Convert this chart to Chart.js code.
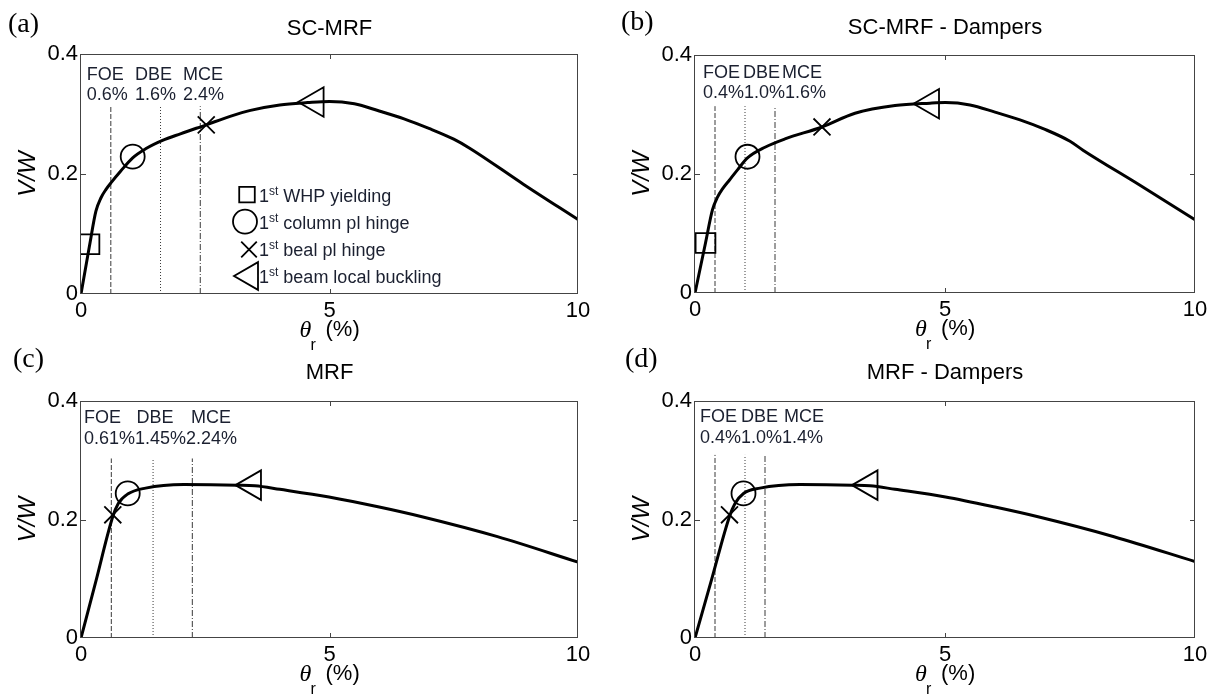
<!DOCTYPE html>
<html>
<head>
<meta charset="utf-8">
<script src="https://cdn.jsdelivr.net/npm/chart.js@4.4.0/dist/chart.umd.min.js"></script>
<style>
  body { margin: 0; background: #fff; width: 1215px; height: 695px; overflow: hidden; position: relative; }
  canvas { position: absolute; }
</style>
</head>
<body>
<canvas id="p0" width="610" height="360" style="left:0;top:0"></canvas>
<canvas id="p1" width="605" height="360" style="left:610px;top:0"></canvas>
<canvas id="p2" width="610" height="350" style="left:0;top:345px"></canvas>
<canvas id="p3" width="605" height="350" style="left:610px;top:345px"></canvas>
<script>
// panel text
const panelLetters = ['(a)', '(b)', '(c)', '(d)'];
const panelTitles = ['SC-MRF', 'SC-MRF - Dampers', 'MRF', 'MRF - Dampers'];

// pushover curves, roof drift (%) vs V/W
const thetaA = [0, 0.17, 0.3, 0.4, 0.5, 0.61, 0.8, 1.04, 1.3, 1.64, 2.0, 2.52, 3.0, 3.41, 4.0, 4.56, 5.0, 5.5, 6.0, 6.5, 7.0, 7.5, 7.82, 8.9, 10];
const vwA    = [0, 0.08, 0.138, 0.16, 0.174, 0.186, 0.205, 0.227, 0.242, 0.256, 0.267, 0.282, 0.296, 0.306, 0.315, 0.319, 0.321, 0.317, 0.305, 0.292, 0.276, 0.258, 0.243, 0.183, 0.124];
const thetaB = [0, 0.21, 0.35, 0.45, 0.55, 0.69, 0.85, 1.05, 1.4, 1.8, 2.54, 3.2, 4.0, 4.7, 5.01, 5.5, 6.0, 6.5, 7.0, 7.5, 7.76, 8.9, 10];
const vwB    = [0, 0.084, 0.14, 0.161, 0.175, 0.19, 0.207, 0.227, 0.245, 0.259, 0.279, 0.302, 0.315, 0.319, 0.32, 0.316, 0.304, 0.291, 0.275, 0.255, 0.24, 0.181, 0.123];
const thetaC = [0, 0.3, 0.64, 0.75, 0.94, 1.3, 2.07, 3.15, 3.5, 4.0, 4.99, 6.0, 6.84, 8.38, 10];
const vwC    = [0, 0.096, 0.205, 0.227, 0.243, 0.253, 0.259, 0.258, 0.257, 0.251, 0.238, 0.221, 0.205, 0.171, 0.128];
const thetaD = [0, 0.33, 0.69, 0.8, 0.97, 1.3, 2.1, 3.15, 3.5, 4.0, 5.01, 6.0, 6.84, 8.38, 10];
const vwD    = [0, 0.098, 0.205, 0.227, 0.244, 0.253, 0.259, 0.258, 0.257, 0.251, 0.238, 0.221, 0.205, 0.171, 0.129];
const curveX = [thetaA, thetaB, thetaC, thetaD];
const curveY = [vwA, vwB, vwC, vwD];

// seismic hazard levels
const hazardNames = ['FOE', 'DBE', 'MCE'];
const hazardDrift = [[0.6, 1.6, 2.4], [0.4, 1.0, 1.6], [0.61, 1.45, 2.24], [0.4, 1.0, 1.4]];
const hazardLabels = [['0.6%', '1.6%', '2.4%'], ['0.4%', '1.0%', '1.6%'], ['0.61%', '1.45%', '2.24%'], ['0.4%', '1.0%', '1.4%']];
const hazardTop = [0.313, 0.314, 0.303, 0.309];

// damage events (null = not reached)
const whpX  = [0.17, 0.21, null, null];   const whpY  = [0.083, 0.084, null, null];
const colX  = [1.04, 1.05, 0.94, 0.97];   const colY  = [0.229, 0.229, 0.244, 0.244];
const beamX = [2.52, 2.54, 0.64, 0.69];   const beamY = [0.282, 0.279, 0.208, 0.208];
const buckX = [4.71, 4.71, 3.45, 3.48];   const buckY = [0.320, 0.318, 0.258, 0.258];
const legendLabels = ['WHP yielding', 'column pl hinge', 'beal pl hinge', 'beam local buckling'];

const SANS = '"Liberation Sans", Arial, Helvetica, sans-serif';
const SERIF = '"Liberation Serif", "Times New Roman", serif';
const TEXT_DARK = '#1b2030';

// layout per panel (canvas pixels)
const geo = [
  { padR: 32, padT: 54, yW: 81, xH: 66, letter: [8, 25], titleY: 29, rows: [21, 41.5], nameOff: [5.7, 54, 102], pctOff: [5.7, 54, 102] },
  { padR: 20, padT: 55, yW: 85, xH: 67, letter: [11, 23], titleY: 28, rows: [18, 38], nameOff: [8, 48, 87], pctOff: [8, 49, 90] },
  { padR: 32, padT: 56, yW: 81, xH: 57, letter: [13, 15], titleY: 28, rows: [17, 38], nameOff: [3, 55.5, 110], pctOff: [3, 54, 105] },
  { padR: 20, padT: 56, yW: 85, xH: 57, letter: [15, 15], titleY: 28, rows: [16, 37], nameOff: [5, 46, 89], pctOff: [5, 46, 87] }
];

const dashes = [[5, 2], [1, 2], [6, 2, 1, 2]];

function glyph(ctx, kind, x, y, r) {
  ctx.beginPath();
  if (kind === 'rect') {
    const s = r * Math.SQRT1_2;
    ctx.rect(x - s, y - s, 2 * s, 2 * s);
  } else if (kind === 'circle') {
    ctx.arc(x, y, r, 0, Math.PI * 2);
  } else if (kind === 'crossRot') {
    const d = r * Math.SQRT1_2;
    ctx.moveTo(x - d, y - d); ctx.lineTo(x + d, y + d);
    ctx.moveTo(x - d, y + d); ctx.lineTo(x + d, y - d);
  } else {
    // triangle pointing left
    ctx.moveTo(x - r, y);
    ctx.lineTo(x + r / 2, y - r * Math.sqrt(3) / 2);
    ctx.lineTo(x + r / 2, y + r * Math.sqrt(3) / 2);
    ctx.closePath();
  }
  ctx.stroke();
}

function buildPanel(i) {
  const g = geo[i];
  const datasets = [];

  datasets.push({
    data: curveX[i].map((x, k) => ({ x, y: curveY[i][k] })),
    showLine: true, borderColor: '#000', borderWidth: 3, pointRadius: 0,
    cubicInterpolationMode: 'monotone', order: 2
  });

  hazardDrift[i].forEach((d, k) => {
    datasets.push({
      data: [{ x: d, y: 0 }, { x: d, y: hazardTop[i] }],
      showLine: true, borderColor: '#3a3a3a', borderWidth: 1, borderDash: dashes[k],
      pointRadius: 0, order: 3
    });
  });

  const events = [
    [whpX, whpY, 'rect', 14, 0],
    [colX, colY, 'circle', 12, 0],
    [beamX, beamY, 'crossRot', 12, 0],
    [buckX, buckY, 'triangle', 17, -90]
  ];
  events.forEach(([ex, ey, style, rad, rot]) => {
    if (ex[i] === null) return;
    datasets.push({
      data: [{ x: ex[i], y: ey[i] }],
      showLine: false, pointStyle: style, pointRadius: rad, pointRotation: rot,
      pointBorderColor: '#000', pointBorderWidth: 1.8, pointBackgroundColor: 'rgba(0,0,0,0)',
      borderColor: '#000', backgroundColor: 'rgba(0,0,0,0)', order: 1
    });
  });

  const decor = {
    id: 'decor' + i,
    afterDraw(chart) {
      const { ctx, chartArea: a, scales: { x, y } } = chart;
      ctx.save();
      // box
      ctx.strokeStyle = '#444';
      ctx.lineWidth = 1;
      ctx.setLineDash([]);
      ctx.strokeRect(Math.round(a.left) - 0.5, Math.round(a.top) + 0.5, Math.round(a.width), Math.round(a.height) - 1);
      // inner ticks
      const x5 = Math.round(x.getPixelForValue(5)) + 0.5;
      const y2 = Math.round(y.getPixelForValue(0.2)) + 0.5;
      ctx.beginPath();
      ctx.moveTo(x5, a.bottom); ctx.lineTo(x5, a.bottom - 5);
      ctx.moveTo(x5, a.top); ctx.lineTo(x5, a.top + 5);
      ctx.moveTo(a.left, y2); ctx.lineTo(a.left + 5, y2);
      ctx.moveTo(a.right, y2); ctx.lineTo(a.right - 5, y2);
      ctx.stroke();

      const cx = (a.left + a.right) / 2;
      ctx.textBaseline = 'middle';
      ctx.fillStyle = '#000';

      // panel letter
      ctx.font = '28px ' + SERIF;
      ctx.textAlign = 'left';
      ctx.fillText(panelLetters[i], g.letter[0], g.letter[1]);

      // title
      ctx.font = '22px ' + SANS;
      ctx.textAlign = 'center';
      ctx.fillText(panelTitles[i], cx, g.titleY);

      // x axis title: theta_r (%)
      const ly = a.bottom + 37;
      ctx.textAlign = 'left';
      ctx.font = 'italic 24px ' + SERIF;
      ctx.fillText('\u03b8', cx - 30, ly);
      ctx.font = '16px ' + SANS;
      ctx.fillText('r', cx - 19, ly + 15);
      ctx.font = '22px ' + SANS;
      ctx.fillText('(%)', cx - 4, ly - 1);

      // y axis title
      ctx.save();
      ctx.translate(a.left - 53, (a.top + a.bottom) / 2);
      ctx.rotate(-Math.PI / 2);
      ctx.textAlign = 'center';
      ctx.font = 'italic 24px ' + SANS;
      ctx.fillText('V/W', 0, 0);
      ctx.restore();

      // hazard annotations
      ctx.fillStyle = TEXT_DARK;
      ctx.font = '18px ' + SANS;
      ctx.textAlign = 'left';
      hazardNames.forEach((n, k) => {
        ctx.fillText(n, a.left + g.nameOff[k], a.top + g.rows[0]);
        ctx.fillText(hazardLabels[i][k], a.left + g.pctOff[k], a.top + g.rows[1]);
      });

      // legend (panel a only)
      if (i === 0) {
        const kinds = ['rect', 'circle', 'crossRot', 'triangle'];
        const mx = [166, 164, 168, 169];
        const my = [140.6, 167.6, 195.5, 222];
        const mr = [11, 12, 11, 16];
        const ty = [143, 170, 197, 224];
        ctx.strokeStyle = '#000';
        ctx.lineWidth = 1.8;
        kinds.forEach((k, j) => glyph(ctx, k, a.left + mx[j], a.top + my[j], mr[j]));
        ctx.fillStyle = TEXT_DARK;
        legendLabels.forEach((lab, j) => {
          const tx = a.left + 178;
          const tyy = a.top + ty[j];
          ctx.font = '18px ' + SANS;
          ctx.fillText('1', tx, tyy);
          const w1 = ctx.measureText('1').width;
          ctx.font = '12px ' + SANS;
          ctx.fillText('st', tx + w1, tyy - 5);
          const w2 = ctx.measureText('st').width;
          ctx.font = '18px ' + SANS;
          ctx.fillText(' ' + lab, tx + w1 + w2, tyy);
        });
      }
      ctx.restore();
    }
  };

  return new Chart(document.getElementById('p' + i), {
    type: 'scatter',
    data: { datasets },
    options: {
      responsive: false,
      animation: false,
      events: [],
      layout: { padding: { left: 0, right: g.padR, top: g.padT, bottom: 0 } },
      plugins: { legend: { display: false }, tooltip: { enabled: false } },
      scales: {
        x: {
          type: 'linear', min: 0, max: 10,
          grid: { display: false, drawTicks: false },
          border: { display: false },
          ticks: { stepSize: 5, color: '#000', padding: 4, font: { family: SANS, size: 22 } },
          afterFit: s => { s.height = g.xH; }
        },
        y: {
          type: 'linear', min: 0, max: 0.4,
          grid: { display: false, drawTicks: false },
          border: { display: false },
          ticks: { stepSize: 0.2, color: '#000', padding: 3, font: { family: SANS, size: 22 } },
          afterFit: s => { s.width = g.yW; }
        }
      }
    },
    plugins: [decor]
  });
}

for (let i = 0; i < 4; i++) {
  try {
    buildPanel(i);
  } catch (e) {
    console.error('panel ' + i + ' error:', e);
  }
}
</script>
</body>
</html>
